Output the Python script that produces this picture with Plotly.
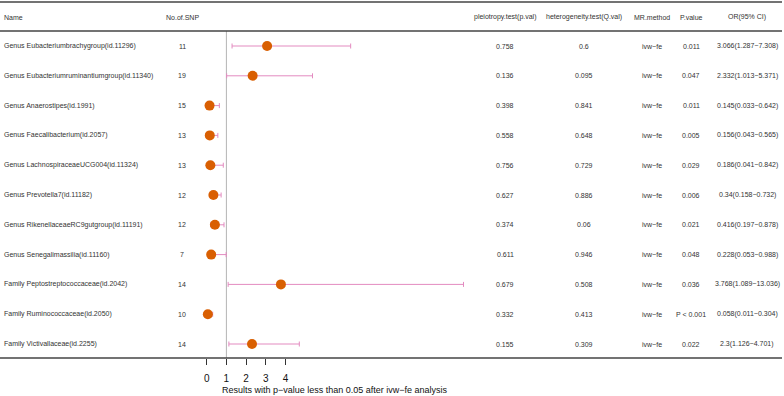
import plotly.graph_objects as go

names = [
    "Genus Eubacteriumbrachygroup(id.11296)",
    "Genus Eubacteriumruminantiumgroup(id.11340)",
    "Genus Anaerostipes(id.1991)",
    "Genus Faecalibacterium(id.2057)",
    "Genus LachnospiraceaeUCG004(id.11324)",
    "Genus Prevotella7(id.11182)",
    "Genus RikenellaceaeRC9gutgroup(id.11191)",
    "Genus Senegalimassilia(id.11160)",
    "Family Peptostreptococcaceae(id.2042)",
    "Family Ruminococcaceae(id.2050)",
    "Family Victivallaceae(id.2255)",
]
n_snp = [11, 19, 15, 13, 13, 12, 12, 7, 14, 10, 14]
pleio = ["0.758", "0.136", "0.398", "0.558", "0.756", "0.627", "0.374", "0.611", "0.679", "0.332", "0.155"]
hetero = ["0.6", "0.095", "0.841", "0.648", "0.729", "0.886", "0.06", "0.946", "0.508", "0.413", "0.309"]
method = ["ivw\u2212fe"] * 11
pval = ["0.011", "0.047", "0.011", "0.005", "0.029", "0.006", "0.021", "0.048", "0.036", "P < 0.001", "0.022"]
or_val = [3.066, 2.332, 0.145, 0.156, 0.186, 0.34, 0.416, 0.228, 3.768, 0.058, 2.3]
ci_lo = [1.287, 1.013, 0.033, 0.043, 0.041, 0.158, 0.197, 0.053, 1.089, 0.011, 1.126]
ci_hi = [7.308, 5.371, 0.642, 0.565, 0.842, 0.732, 0.878, 0.988, 13.036, 0.304, 4.701]
or_text = [f"{o}({l}\u2212{h})" for o, l, h in zip(or_val, ci_lo, ci_hi)]

headers = ["Name", "No.of.SNP", "pleiotropy.test(p.val)", "heterogeneity.test(Q.val)",
           "MR.method", "P.value", "OR(95% CI)"]
tick_vals = [0, 1, 2, 3, 4]
axis_title = "Results with p\u2212value less than 0.05 after ivw\u2212fe analysis"

W, H = 784, 396
x0_px, px_per_unit = 206.7, 19.7
row0_px, row_step = 46.0, 29.8

rows = list(range(len(names)))
FONT = "Liberation Sans, Arial, Helvetica, sans-serif"
TXT = "#333333"

fig = go.Figure()
fig.add_trace(go.Scatter(
    x=or_val, y=rows, mode="markers",
    marker=dict(color="#D95F02", size=10, line=dict(width=0)),
    error_x=dict(type="data", symmetric=False,
                 array=[h - o for h, o in zip(ci_hi, or_val)],
                 arrayminus=[o - l for o, l in zip(or_val, ci_lo)],
                 color="#E38BC0", thickness=1, width=2.5),
    showlegend=False, hoverinfo="skip",
))

def px2py(y):
    return 1 - y / H

col_x = [2, 182, 505, 584, 652, 691, 747]
ann = []
for i, htxt in enumerate(headers):
    ann.append(dict(x=col_x[i] / W, y=px2py(17), xref="paper", yref="paper",
                    text=htxt, showarrow=False,
                    xanchor="left" if i == 0 else "center", yanchor="middle",
                    font=dict(size=7, color=TXT, family=FONT)))
cols = [names, [str(v) for v in n_snp], pleio, hetero, method, pval, or_text]
for ci, col in enumerate(cols):
    for r, val in enumerate(col):
        ann.append(dict(x=col_x[ci] / W, y=r, xref="paper", yref="y",
                        text=val, showarrow=False,
                        xanchor="left" if ci == 0 else "center", yanchor="middle",
                        font=dict(size=7, color=TXT, family=FONT)))
ann.append(dict(x=335 / W, y=px2py(390), xref="paper", yref="paper",
                text=axis_title, showarrow=False, xanchor="center", yanchor="middle",
                font=dict(size=9, color="#111111", family=FONT)))

shapes = []
for ypx in (2, 31, 358):
    shapes.append(dict(type="line", xref="paper", yref="paper",
                       x0=0, x1=782 / W, y0=px2py(ypx), y1=px2py(ypx),
                       line=dict(color="#444444", width=1.5)))
shapes.append(dict(type="line", xref="x", yref="paper", x0=1, x1=1,
                   y0=px2py(31), y1=px2py(358),
                   line=dict(color="#b5b5b5", width=1), layer="below"))

xmin = -x0_px / px_per_unit
xmax = (W - x0_px) / px_per_unit
ymin = -row0_px / row_step
ymax = (H - row0_px) / row_step

fig.update_layout(
    width=W, height=H,
    margin=dict(l=0, r=0, t=0, b=0, pad=0),
    paper_bgcolor="white", plot_bgcolor="white",
    annotations=ann, shapes=shapes,
    xaxis=dict(range=[xmin, xmax], domain=[0, 1], anchor="free", position=px2py(358),
               tickvals=tick_vals, ticktext=[str(v) for v in tick_vals],
               ticks="outside", ticklen=6, tickwidth=1, tickcolor="#333333",
               ticklabelstandoff=5,
               showgrid=False, zeroline=False, showline=False,
               tickfont=dict(size=10, color="#111111", family=FONT)),
    yaxis=dict(range=[ymax, ymin], domain=[0, 1], showgrid=False, zeroline=False,
               showticklabels=False, showline=False, ticks=""),
)

fig.write_html("out.html", config={"displayModeBar": False, "staticPlot": True},
               post_script="document.body.style.margin='0';document.body.style.overflow='hidden';")
